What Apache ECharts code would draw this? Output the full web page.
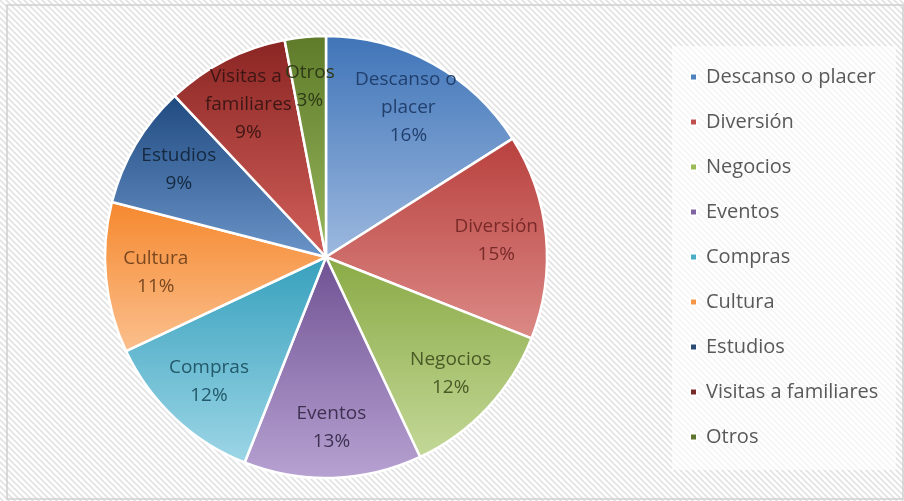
<!DOCTYPE html>
<html><head><meta charset="utf-8">
<script src="https://cdn.jsdelivr.net/npm/echarts@6/dist/echarts.min.js"></script>
<style>html,body{margin:0;padding:0;background:#fff}#c{width:904px;height:501px}</style>
</head><body><div id="c"></div>
<script>
var categories = ['Descanso o placer','Diversión','Negocios','Eventos','Compras','Cultura','Estudios','Visitas a familiares','Otros'];
var values = [16,15,12,13,12,11,9,9,3];
var topColors = ['#3f74b8','#b8403d','#8aaa45','#6f5193','#36a0bd','#f5882e','#1f4a80','#8a2523','#5e7b2a'];
var bottomColors = ['#9db9df','#dc8a87','#c3d898','#b7a2d2','#9dd6e6','#fbc08e','#6b95c9','#d2605a','#98b75c'];
var legendColors = ['#4f81bd','#c0504d','#9bbb59','#8064a2','#4bacc6','#f79646','#2c4d75','#772c2a','#5f7530'];
var labelColors = ['#22406e','#7a2a28','#4a5a26','#3e3152','#23596a','#7a4820','#15283f','#3d1614','#2f3b16'];

// hatch pattern
var pc = document.createElement('canvas');
pc.width = 6; pc.height = 6;
var g = pc.getContext('2d');
g.fillStyle = '#ffffff'; g.fillRect(0,0,6,6);
g.strokeStyle = '#e2e2e2'; g.lineWidth = 1.6;
g.beginPath();
g.moveTo(-1,-1); g.lineTo(7,7);
g.moveTo(-4,2); g.lineTo(4,10);
g.moveTo(2,-4); g.lineTo(10,4);
g.stroke();

var chart = echarts.init(document.getElementById('c'), null, {renderer:'canvas'});
var data = categories.map(function(n,i){
  return {name:n, value:values[i],
    itemStyle:{color:{type:'linear',x:0,y:0,x2:0,y2:1,colorStops:[{offset:0,color:topColors[i]},{offset:1,color:bottomColors[i]}]}}};
});
var labelData = categories.map(function(n,i){
  return {name:n, value:values[i], label:{color:labelColors[i]}};
});
chart.setOption({
  backgroundColor:{image:pc, repeat:'repeat'},
  animation:false,
  color: legendColors,
  graphic:[
    {type:'rect', shape:{x:7,y:5,width:896,height:494}, style:{fill:'none', stroke:'#cfcfcf', lineWidth:1.5}, z:0},
    {type:'rect', shape:{x:672,y:46,width:224,height:424}, style:{fill:'rgba(255,255,255,0.65)'}, z:0}
  ],
  legend:{
    orient:'vertical', left:684, top:61, itemWidth:7, itemHeight:7, itemGap:23,
    icon:'rect',
    textStyle:{color:'#595959', fontSize:20, lineHeight:22, fontFamily:'Open Sans', padding:[0,0,0,4]},
    data: categories.map(function(n,i){return {name:n, itemStyle:{color:legendColors[i]}};})
  },
  series:[
    {type:'pie', center:[326,257], radius:[0,221], startAngle:90, clockwise:true,
     silent:true, label:{show:false}, labelLine:{show:false},
     itemStyle:{borderColor:'#ffffff', borderWidth:2.5},
     data:data},
    {type:'pie', center:[326,257], radius:[115,221], startAngle:90, clockwise:true,
     silent:true, legendHoverLink:false, avoidLabelOverlap:false,
     labelLayout:{hideOverlap:false},
     itemStyle:{color:'rgba(0,0,0,0)', borderWidth:0},
     emphasis:{disabled:true},
     label:{show:true, position:'inside', fontSize:19, fontFamily:'Open Sans', lineHeight:28,
            width:115, overflow:'break', align:'center',
            formatter:function(p){return p.name + '\n' + p.value + '%';}},
     labelLine:{show:false},
     data:labelData}
  ]
});
</script></body></html>
